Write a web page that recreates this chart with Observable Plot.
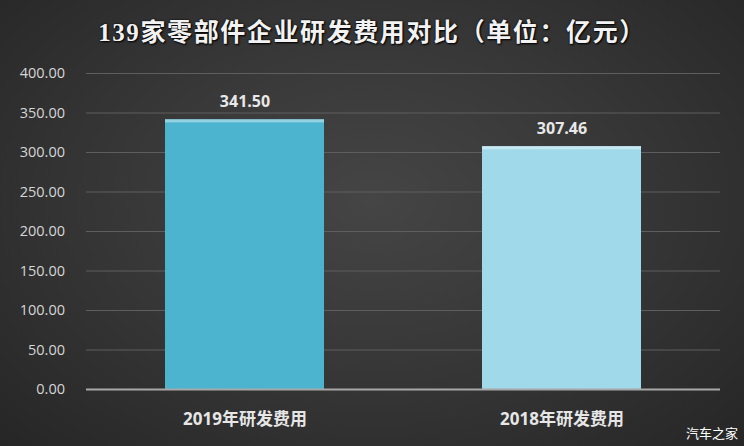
<!DOCTYPE html>
<html><head><meta charset="utf-8">
<script src="https://cdn.jsdelivr.net/npm/d3@7"></script>
<script src="https://cdn.jsdelivr.net/npm/@observablehq/plot@0.6"></script>
<style>
html,body{margin:0;padding:0;}
#wrap{position:relative;width:744px;height:446px;overflow:hidden;
 background:radial-gradient(ellipse at 50% 45%, #454545 0%, #383838 45%, #262626 100%);}
#title{height:62px;line-height:66px;text-align:center;color:#f2f2f2;
 font-family:"Liberation Serif","Noto Sans CJK SC",serif;font-size:25px;font-weight:bold;letter-spacing:1.6px;
 text-shadow:0 0 2px #000,1px 1px 2px #000;}
#wm{position:absolute;right:6px;bottom:4px;color:#fff;font-family:"Noto Sans CJK SC",sans-serif;font-size:13px;}
svg{display:block;}
</style></head>
<body>
<div id="wrap">
<div id="title">139家零部件企业研发费用对比（单位：亿元）</div>
<div id="chart"></div>
<div id="wm">汽车之家</div>
</div>
<script>
const categories = ["2019年研发费用", "2018年研发费用"];
const values = [341.50, 307.46];
const barColors = ["#4cb4cf", "#9fd9ea"];
const yTicks = [0, 50, 100, 150, 200, 250, 300, 350, 400];

const data = categories.map((c, i) => ({cat: c, value: values[i], color: barColors[i]}));

const plot = Plot.plot({
  width: 744,
  height: 384,
  marginTop: 11,
  marginBottom: 57,
  marginLeft: 86,
  marginRight: 24,
  style: {background: "transparent", fontFamily: "'Open Sans','Noto Sans CJK SC',sans-serif"},
  x: {domain: categories, paddingInner: 0.5, paddingOuter: 0.25, axis: null},
  y: {domain: [0, 400], axis: null},
  marks: [
    Plot.ruleY(yTicks.filter(d => d > 0), {stroke: "#5e5e5e", strokeWidth: 1}),
    Plot.barY(data, {x: "cat", y: "value", fill: "color"}),
    Plot.barY(data, {x: "cat", y1: d => d.value - 4, y2: "value", fill: "#ffffff", fillOpacity: 0.4}),
    Plot.ruleY([0], {stroke: "#a8a8a8", strokeWidth: 2}),
    Plot.text(yTicks, {x: () => categories[0], y: d => d, text: d => d.toFixed(2), frameAnchor: "left", dx: -180,
      textAnchor: "end", fill: "#d6d6d6", fontSize: 14.5}),
    Plot.text(data, {x: "cat", y: "value", text: d => d.value.toFixed(2), dy: -18, fill: "#e8e8e8",
      fontSize: 16, fontWeight: "bold"}),
    Plot.text(data, {x: "cat", y: 0, text: "cat", dy: 30, fill: "#e6e6e6", fontSize: 17, fontWeight: "bold"})
  ]
});
document.getElementById("chart").appendChild(plot);
</script>
</body></html>
